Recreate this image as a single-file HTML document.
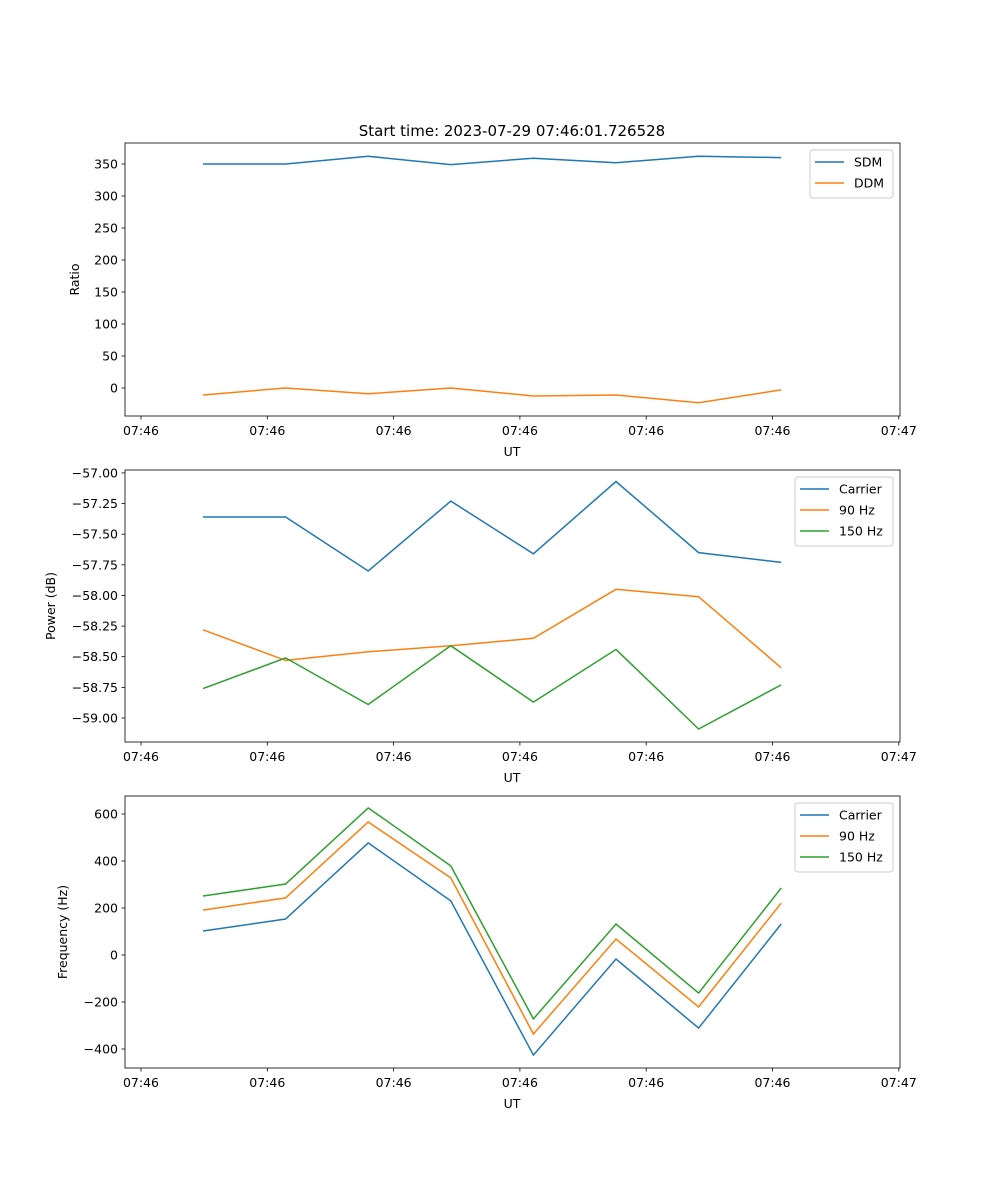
<!DOCTYPE html>
<html><head><meta charset="utf-8"><style>
body{margin:0;background:#fff}
svg{display:block;font-family:"DejaVu Sans","Liberation Sans",sans-serif}
</style></head><body>
<svg id="chart" width="1000" height="1200" xmlns="http://www.w3.org/2000/svg"></svg>
<script>
const times=[0.491,1.145,1.799,2.453,3.107,3.761,4.415,5.069];
const tickTimes=[0,1,2,3,4,5,6];
const tickLabels=["07:46","07:46","07:46","07:46","07:46","07:46","07:47"];
const sdm=[350,350,362,349,359,352,362,360];
const ddm=[-11,0,-9,0,-12.5,-11,-23,-3];
const powCarrier=[-57.36,-57.36,-57.80,-57.23,-57.66,-57.07,-57.65,-57.73];
const pow90=[-58.28,-58.53,-58.46,-58.41,-58.35,-57.95,-58.01,-58.59];
const pow150=[-58.76,-58.51,-58.89,-58.41,-58.87,-58.44,-59.09,-58.73];
const freqCarrier=[102,153,477,230,-426,-17,-311,132];
const freq90=[191,243,566,328,-336,68,-221,221];
const freq150=[251,302,626,379,-272,132,-162,285];
const ticks1=[0,50,100,150,200,250,300,350];
const ticks2=[-57.00,-57.25,-57.50,-57.75,-58.00,-58.25,-58.50,-58.75,-59.00];
const ticks3=[600,400,200,0,-200,-400];

const NS="http://www.w3.org/2000/svg";
const svg=document.getElementById('chart');
function el(t,a,p){const e=document.createElementNS(NS,t);for(const k in a)e.setAttribute(k,a[k]);(p||svg).appendChild(e);return e;}
const X0=125,X1=900;
function xs(t){return 141+t*126.3;}
const C=["#1f77b4","#ff7f0e","#2ca02c"];

function panel(name,top,bot,ymin,ymax,ticks,fmt,ylabel,ylabX,series,names,legend){
  const g=el('g',{});
  
  
  const ys=v=>bot-(v-ymin)/(ymax-ymin)*(bot-top);
  series.forEach((s,i)=>{
    const pts=s.map((v,j)=>xs(times[j]).toFixed(1)+','+ys(v).toFixed(1)).join(' ');
    const l=el('polyline',{points:pts,fill:'none',stroke:C[i],'stroke-width':1.5},g);
    
    
  });
  el('rect',{x:X0,y:top,width:X1-X0,height:bot-top,fill:'none',stroke:'#000','stroke-width':0.8},g);
  ticks.forEach(v=>{
    const y=ys(v);
    el('line',{x1:X0-3.5,x2:X0,y1:y,y2:y,stroke:'#000','stroke-width':0.8},g);
    const t=el('text',{x:X0-7,y:y+4.5,'text-anchor':'end','font-size':12.5},g);t.textContent=fmt(v);
    
    
  });
  tickTimes.forEach((tt,i)=>{
    const x=xs(tt);
    el('line',{x1:x,x2:x,y1:bot,y2:bot+3.5,stroke:'#000','stroke-width':0.8},g);
    const t=el('text',{x:x,y:bot+19,'text-anchor':'middle','font-size':12.5},g);t.textContent=tickLabels[i];
    
    
  });
  const xl=el('text',{x:512,y:bot+40,'text-anchor':'middle','font-size':12.5},g);xl.textContent='UT';
  
  
  const cy=(top+bot)/2;
  const yl=el('text',{x:ylabX,y:cy,'text-anchor':'middle','font-size':12.5,transform:`rotate(-90 ${ylabX} ${cy})`},g);yl.textContent=ylabel;
  
  
  const lg=el('g',{},g);
  
  
  el('rect',{x:legend[0],y:top+7,width:893-legend[0],height:names.length*21+6,rx:3,fill:'#fff',stroke:'#ccc','stroke-width':1},lg);
  names.forEach((n,i)=>{
    const y=top+19+i*21;
    el('line',{x1:legend[0]+5,x2:legend[0]+34,y1:y,y2:y,stroke:C[i],'stroke-width':1.5},lg);
    const t=el('text',{x:legend[0]+44,y:y+4.5,'font-size':12.5},lg);t.textContent=n;
    
    
  });
}
const title=el('text',{x:512,y:136,'text-anchor':'middle','font-size':15});
title.textContent='Start time: 2023-07-29 07:46:01.726528';


panel('ratio-panel',143,416,-43.75,382.8,ticks1,v=>v<0?'\u2212'+(-v):String(v),'Ratio',79,[sdm,ddm],['SDM','DDM'],[810]);
panel('power-panel',470,742,-59.196,-56.976,ticks2,v=>'\u2212'+(-v).toFixed(2),'Power (dB)',55,[powCarrier,pow90,pow150],['Carrier','90 Hz','150 Hz'],[795]);
panel('frequency-panel',796,1068,-480.9,676.6,ticks3,v=>v<0?'\u2212'+(-v):String(v),'Frequency (Hz)',67,[freqCarrier,freq90,freq150],['Carrier','90 Hz','150 Hz'],[795]);
</script>
</body></html>
